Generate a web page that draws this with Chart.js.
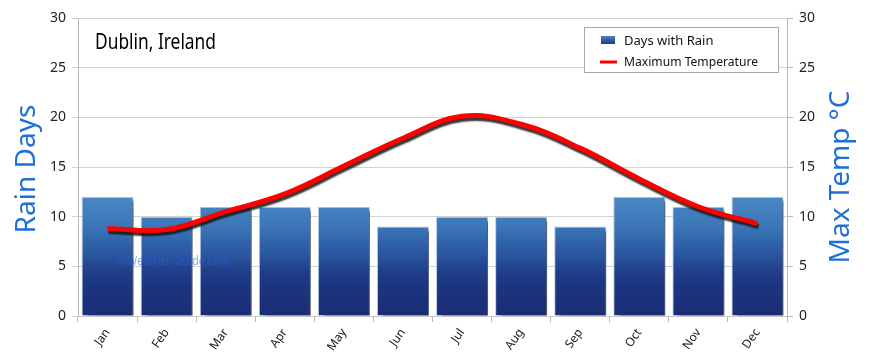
<!DOCTYPE html>
<html><head><meta charset="utf-8">
<script src="https://cdn.jsdelivr.net/npm/chart.js@4.4.1/dist/chart.umd.min.js"></script>
<style>html,body{margin:0;padding:0;background:#fff;overflow:hidden}</style>
</head><body>
<canvas id="c" width="870" height="364"></canvas>
<script>
const months = ['Jan','Feb','Mar','Apr','May','Jun','Jul','Aug','Sep','Oct','Nov','Dec'];
const rainDays = [12, 10, 11, 11, 11, 9, 10, 10, 9, 12, 11, 12];
const maxTemp = [8.8, 8.7, 10.5, 12.3, 15.1, 17.9, 20.1, 19.3, 16.9, 13.8, 11.0, 9.3];
const axisMin = 0, axisMax = 30, axisStep = 5;
const chartTitle = 'Dublin, Ireland';
const leftTitle = 'Rain Days';
const rightTitle = 'Max Temp \u00B0C';
const watermark = '\u00A9Weather-Guide.com';

const FONT = "'Noto Sans', 'DejaVu Sans', sans-serif";
let barGrad = null;
function barFill(ctx) {
  const ca = ctx.chart.chartArea;
  if (!ca) return '#2a5aa0';
  if (!barGrad) {
    const g = ctx.chart.ctx.createLinearGradient(0, ca.bottom, 0, ca.top);
    g.addColorStop(0, '#1a2c74');
    g.addColorStop(0.1, '#1d3580');
    g.addColorStop(0.15, '#203e89');
    g.addColorStop(0.2, '#2a539e');
    g.addColorStop(0.25, '#3164aa');
    g.addColorStop(0.3, '#3c76b8');
    g.addColorStop(0.38, '#4684c2');
    g.addColorStop(0.45, '#4d8dc8');
    g.addColorStop(1, '#62a2d8');
    barGrad = g;
  }
  return barGrad;
}

const fxPlugin = {
  id: 'fx',
  beforeDatasetDraw(chart, args) {
    const ctx = chart.ctx;
    ctx.save();
    if (args.meta.type === 'bar') {
      ctx.shadowColor = 'rgba(0,0,0,0.55)';
      ctx.shadowOffsetX = 6; ctx.shadowOffsetY = 3; ctx.shadowBlur = 2;
    } else {
      ctx.shadowColor = 'rgba(20,20,20,0.85)';
      ctx.shadowOffsetX = 1; ctx.shadowOffsetY = 3; ctx.shadowBlur = 1.5;
    }
  },
  afterDatasetDraw(chart, args) {
    const ctx = chart.ctx;
    ctx.restore();
    if (args.meta.type === 'bar') {
      ctx.save();
      ctx.font = '13px ' + FONT;
      ctx.fillStyle = 'rgba(40,100,215,0.55)';
      ctx.textBaseline = 'alphabetic';
      ctx.fillText(watermark, 118, 265, 112);
      ctx.restore();
    }
  },
  afterDraw(chart) {
    const ctx = chart.ctx;
    ctx.save();
    ctx.fillStyle = '#000';
    ctx.font = '22px ' + FONT;
    ctx.textBaseline = 'alphabetic';
    ctx.textAlign = 'left';
    ctx.fillText(chartTitle, 95, 49, 121);
    ctx.fillStyle = '#1f6fd6';
    ctx.font = '28px ' + FONT;
    ctx.textAlign = 'center';
    ctx.save(); ctx.translate(35, 169); ctx.rotate(-Math.PI / 2);
    ctx.fillText(leftTitle, 0, 0, 138); ctx.restore();
    ctx.save(); ctx.translate(849, 177); ctx.rotate(-Math.PI / 2);
    ctx.fillText(rightTitle, 0, 0, 182); ctx.restore();
    const lx = 584.5, ly = 27.5, lw = 194, lh = 45;
    ctx.fillStyle = '#fff';
    ctx.fillRect(lx, ly, lw, lh);
    ctx.strokeStyle = '#a8a8a8'; ctx.lineWidth = 1;
    ctx.strokeRect(lx, ly, lw, lh);
    const ds = chart.data.datasets;
    const barDs = ds.find(d => d.type === 'bar');
    const lineDs = ds.find(d => d.type === 'line');
    const sg = ctx.createLinearGradient(0, 36, 0, 44);
    sg.addColorStop(0, '#4a80c0'); sg.addColorStop(1, '#1d3a86');
    ctx.fillStyle = sg;
    ctx.fillRect(601, 36, 14, 8);
    ctx.strokeStyle = '#ff0000'; ctx.lineWidth = 3;
    ctx.beginPath(); ctx.moveTo(600, 62); ctx.lineTo(617, 62); ctx.stroke();
    ctx.fillStyle = '#111';
    ctx.font = '13px ' + FONT;
    ctx.textAlign = 'left'; ctx.textBaseline = 'middle';
    ctx.fillText(barDs.label, 624, 41, 100);
    ctx.fillText(lineDs.label, 624, 62, 134);
    ctx.restore();
  }
};

new Chart(document.getElementById('c'), {
  data: {
    labels: months,
    datasets: [
      {
        type: 'line', label: 'Maximum Temperature', data: maxTemp, yAxisID: 'y1',
        borderColor: '#ff0000', borderWidth: 5, pointRadius: 0, pointHoverRadius: 0,
        tension: 0.4, fill: false, order: 0, borderCapStyle: 'butt'
      },
      {
        type: 'bar', label: 'Days with Rain', data: rainDays, yAxisID: 'y',
        backgroundColor: barFill, borderColor: 'rgba(170,200,230,0.9)', borderWidth: 1,
        categoryPercentage: 0.88, barPercentage: 1.0, order: 1
      }
    ]
  },
  options: {
    responsive: false, animation: false,
    layout: { padding: { top: 18, left: 0, right: 0, bottom: 0 } },
    plugins: { legend: { display: false }, tooltip: { enabled: false }, title: { display: false } },
    scales: {
      x: {
        offset: true,
        grid: { display: true, drawOnChartArea: false, offset: true, tickLength: 6, color: '#b8b8b8' },
        border: { color: '#c8c8c8' },
        ticks: { color: '#222', font: { family: FONT, size: 12 }, maxRotation: 55, minRotation: 55, padding: 4 },
        afterFit(s) { s.height = 48; }
      },
      y: {
        position: 'left', min: axisMin, max: axisMax,
        ticks: { stepSize: axisStep, color: '#222', font: { family: FONT, size: 14 }, padding: 6 },
        grid: { color: '#d2d2d2', tickLength: 6 },
        border: { color: '#b8b8b8' },
        afterFit(s) { s.width = 78; }
      },
      y1: {
        position: 'right', min: axisMin, max: axisMax,
        ticks: { stepSize: axisStep, color: '#222', font: { family: FONT, size: 14 }, padding: 6 },
        grid: { drawOnChartArea: false, color: '#b8b8b8', tickLength: 6 },
        border: { color: '#b8b8b8' },
        afterFit(s) { s.width = 83; }
      }
    }
  },
  plugins: [fxPlugin]
});
</script>
</body></html>
